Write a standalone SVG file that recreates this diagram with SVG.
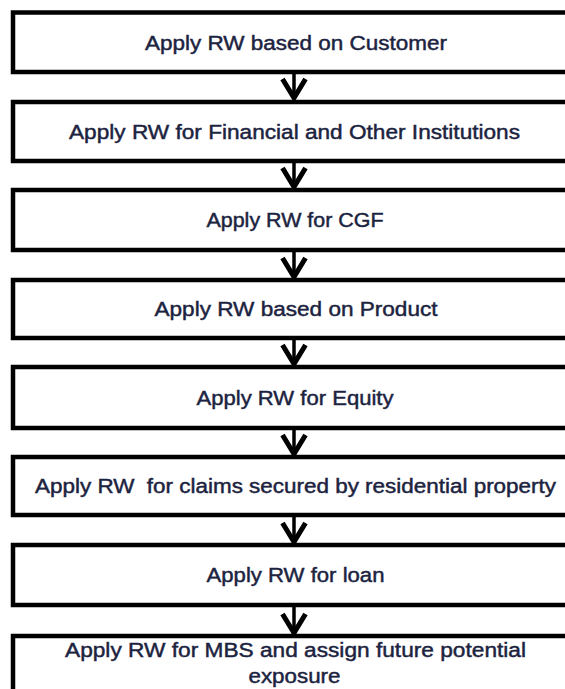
<svg xmlns="http://www.w3.org/2000/svg" width="565" height="689" viewBox="0 0 565 689">
  <style>
    .box { fill: #ffffff; stroke: #000000; stroke-width: 4.5; }
    .lbl { font-family: "Liberation Sans", Arial, sans-serif; font-size: 20px; fill: #1c2340; stroke: #1c2340; stroke-width: 0.45; text-anchor: middle; white-space: pre; }
    .stem { stroke: #000000; stroke-width: 3.5; fill: none; }
  </style>
  <defs>
    <marker id="chev" markerUnits="userSpaceOnUse" viewBox="-16 -26 32 30" refX="0" refY="0" markerWidth="32" markerHeight="30" orient="0" overflow="visible">
      <path d="M -11.5 -20 L 0 -1 L 11.5 -20" fill="none" stroke="#000000" stroke-width="5" stroke-linejoin="miter"/>
    </marker>
  </defs>
  <rect width="565" height="689" fill="#ffffff"/>
  <g id="connectors">
    <line class="stem" x1="294" y1="72" x2="294" y2="99" marker-end="url(#chev)"/>
    <line class="stem" x1="294" y1="161" x2="294" y2="188" marker-end="url(#chev)"/>
    <line class="stem" x1="294" y1="250" x2="294" y2="278" marker-end="url(#chev)"/>
    <line class="stem" x1="294" y1="338" x2="294" y2="365" marker-end="url(#chev)"/>
    <line class="stem" x1="294" y1="428" x2="294" y2="455" marker-end="url(#chev)"/>
    <line class="stem" x1="294" y1="515" x2="294" y2="543" marker-end="url(#chev)"/>
    <line class="stem" x1="294" y1="605" x2="294" y2="634" marker-end="url(#chev)"/>
  </g>
  <g id="node1">
    <rect class="box" x="13" y="12.5" width="620" height="59.5"/>
    <text class="lbl" x="296" y="50" textLength="302" lengthAdjust="spacingAndGlyphs">Apply RW based on Customer</text>
  </g>
  <g id="node2">
    <rect class="box" x="13" y="102" width="620" height="59"/>
    <text class="lbl" x="294.5" y="139" textLength="451" lengthAdjust="spacingAndGlyphs">Apply RW for Financial and Other Institutions</text>
  </g>
  <g id="node3">
    <rect class="box" x="13" y="190" width="620" height="60"/>
    <text class="lbl" x="295" y="227" textLength="177" lengthAdjust="spacingAndGlyphs">Apply RW for CGF</text>
  </g>
  <g id="node4">
    <rect class="box" x="13" y="280" width="620" height="58"/>
    <text class="lbl" x="296" y="315.5" textLength="283" lengthAdjust="spacingAndGlyphs">Apply RW based on Product</text>
  </g>
  <g id="node5">
    <rect class="box" x="13" y="367" width="620" height="61"/>
    <text class="lbl" x="295" y="404.5" textLength="197" lengthAdjust="spacingAndGlyphs">Apply RW for Equity</text>
  </g>
  <g id="node6">
    <rect class="box" x="13" y="457" width="620" height="58"/>
    <text class="lbl" x="295.5" y="493" textLength="521" lengthAdjust="spacingAndGlyphs">Apply RW  for claims secured by residential property</text>
  </g>
  <g id="node7">
    <rect class="box" x="13" y="545" width="620" height="60"/>
    <text class="lbl" x="295.5" y="582" textLength="178" lengthAdjust="spacingAndGlyphs">Apply RW for loan</text>
  </g>
  <g id="node8">
    <rect class="box" x="13" y="636" width="620" height="80"/>
    <text class="lbl" x="295.5" y="657" textLength="461" lengthAdjust="spacingAndGlyphs">Apply RW for MBS and assign future potential</text>
    <text class="lbl" x="294.5" y="683" textLength="92" lengthAdjust="spacingAndGlyphs">exposure</text>
  </g>
</svg>
